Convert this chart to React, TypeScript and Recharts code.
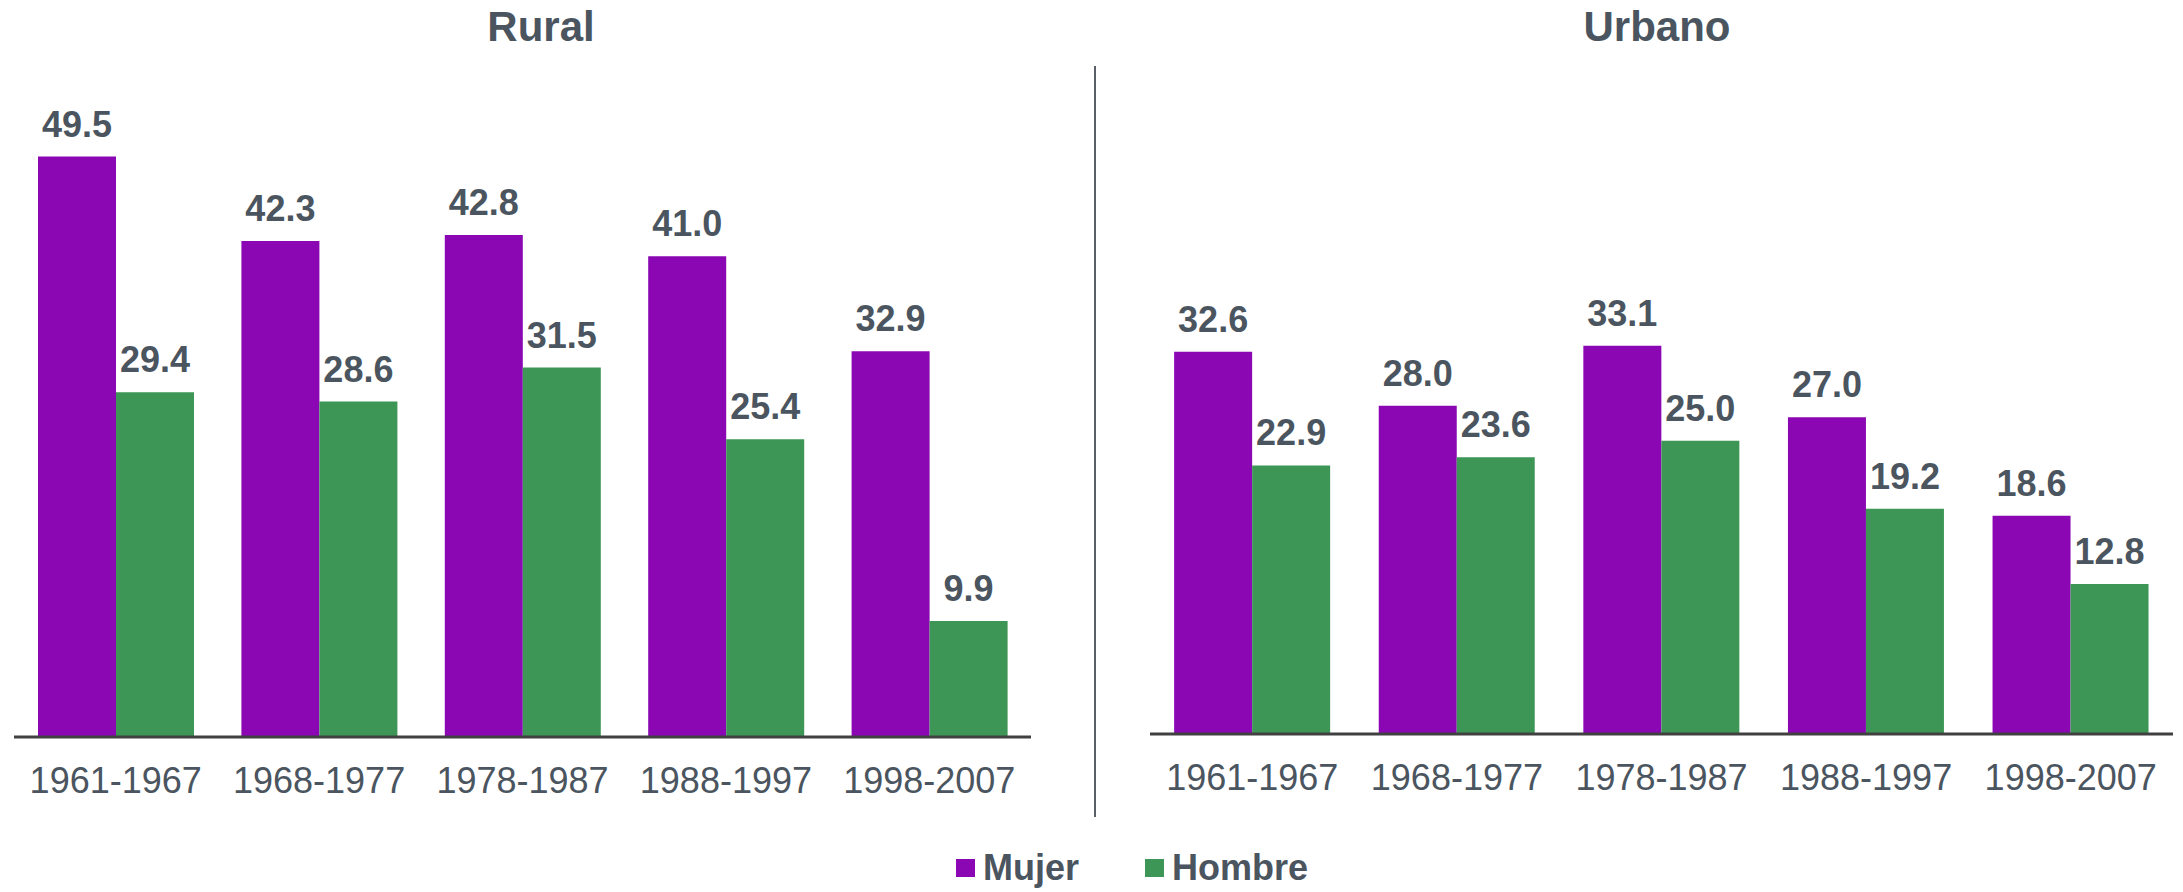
import { BarChart, Bar, XAxis, YAxis, LabelList } from "recharts";

const periodos = ["1961-1967", "1968-1977", "1978-1987", "1988-1997", "1998-2007"];

const ruralMujer = [49.5, 42.3, 42.8, 41.0, 32.9];
const ruralHombre = [29.4, 28.6, 31.5, 25.4, 9.9];
const urbanoMujer = [32.6, 28.0, 33.1, 27.0, 18.6];
const urbanoHombre = [22.9, 23.6, 25.0, 19.2, 12.8];

const MORADO = "#8a07b3";
const VERDE = "#3d9655";
const GRIS = "#4b5560";
const FONT = "'Liberation Sans', Arial, sans-serif";

const toRows = (mujer: number[], hombre: number[]) =>
  periodos.map((p, i) => ({ periodo: p, mujer: mujer[i], hombre: hombre[i] }));

type PanelProps = {
  data: { periodo: string; mujer: number; hombre: number }[];
  left: number;
  width: number;
  margin: { top: number; right: number; left: number; bottom: number };
};

function Panel({ data, left, width, margin }: PanelProps) {
  return (
    <div style={{ position: "absolute", left, top: 0 }}>
      <BarChart
        width={width}
        height={830}
        data={data}
        margin={margin}
        barCategoryGap="11.8%"
        barGap={0}
      >
        <XAxis
          dataKey="periodo"
          height={830 - margin.top - 645 - margin.bottom}
          tickLine={false}
          tickMargin={24}
          axisLine={{ stroke: "#404040", strokeWidth: 3 }}
          tick={{ fill: GRIS, fontSize: 36, fontFamily: FONT }}
          interval={0}
        />
        <YAxis hide domain={[0, 55]} />
        <Bar dataKey="mujer" fill={MORADO} isAnimationActive={false}>
          <LabelList
            dataKey="mujer"
            position="top"
            offset={20}
            formatter={(v: any) => Number(v).toFixed(1)}
            style={{ fill: GRIS, fontSize: 36, fontWeight: "bold", fontFamily: FONT }}
          />
        </Bar>
        <Bar dataKey="hombre" fill={VERDE} isAnimationActive={false}>
          <LabelList
            dataKey="hombre"
            position="top"
            offset={20}
            formatter={(v: any) => Number(v).toFixed(1)}
            style={{ fill: GRIS, fontSize: 36, fontWeight: "bold", fontFamily: FONT }}
          />
        </Bar>
      </BarChart>
    </div>
  );
}

const titleStyle = {
  position: "absolute" as const,
  top: 2,
  width: 400,
  textAlign: "center" as const,
  fontFamily: FONT,
  fontWeight: "bold" as const,
  fontSize: 42,
  lineHeight: "50px",
  color: GRIS,
};

export default function App() {
  return (
    <div
      style={{
        position: "fixed",
        left: 0,
        top: 0,
        width: 2183,
        height: 892,
        background: "#fff",
        fontFamily: FONT,
      }}
    >
      <div style={{ ...titleStyle, left: 541 - 200 }}>Rural</div>
      <div style={{ ...titleStyle, left: 1657 - 200 }}>Urbano</div>

      <Panel
        data={toRows(ruralMujer, ruralHombre)}
        left={0}
        width={1050}
        margin={{ top: 92, right: 19, left: 14, bottom: 0 }}
      />
      <Panel
        data={toRows(urbanoMujer, urbanoHombre)}
        left={1100}
        width={1083}
        margin={{ top: 89, right: 10, left: 50, bottom: 0 }}
      />

      <div
        style={{
          position: "absolute",
          left: 1094,
          top: 66,
          width: 2,
          height: 751,
          background: "#5a6068",
        }}
      />

      <div
        style={{
          position: "absolute",
          left: 956,
          top: 846,
          display: "flex",
          alignItems: "center",
          fontWeight: "bold",
          fontSize: 36,
          color: GRIS,
          lineHeight: "44px",
        }}
      >
        <span style={{ width: 19, height: 18, background: MORADO, marginRight: 8 }} />
        <span>Mujer</span>
        <span style={{ width: 19, height: 18, background: VERDE, marginLeft: 66, marginRight: 8 }} />
        <span>Hombre</span>
      </div>
    </div>
  );
}
